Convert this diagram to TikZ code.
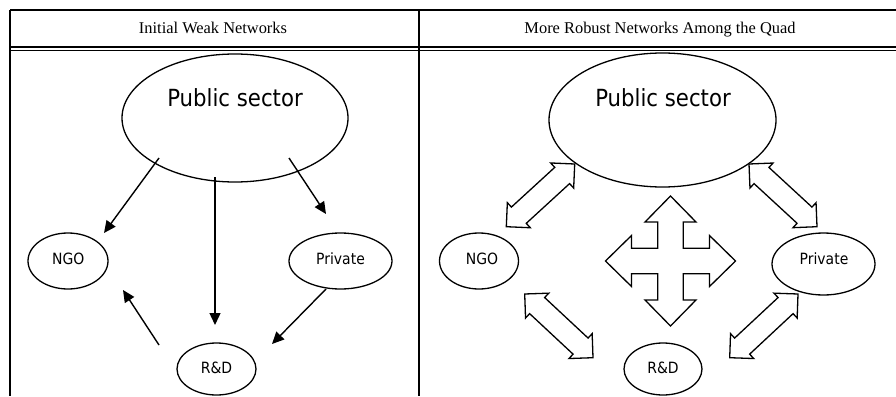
\documentclass[tikz,border=0pt]{standalone}
\usepackage{fontspec}
\setmainfont{Liberation Serif}
\newfontfamily\tah[FakeStretch=0.9]{DejaVu Sans}
\usetikzlibrary{calc,arrows.meta,shapes.geometric}

\newcommand\bhl{17pt}
\newcommand\bhw{17pt}
\newcommand\bsw{11pt}
\newcommand\dblk[2]{%
  \draw[blk] (#1)
    -- ($(#1)!\bhl!(#2)!\bhw!90:(#2)$)
    -- ($(#1)!\bhl!(#2)!\bsw!90:(#2)$)
    -- ($(#2)!\bhl!(#1)!\bsw!-90:(#1)$)
    -- ($(#2)!\bhl!(#1)!\bhw!-90:(#1)$)
    -- (#2)
    -- ($(#2)!\bhl!(#1)!\bhw!90:(#1)$)
    -- ($(#2)!\bhl!(#1)!\bsw!90:(#1)$)
    -- ($(#1)!\bhl!(#2)!\bsw!-90:(#2)$)
    -- ($(#1)!\bhl!(#2)!\bhw!-90:(#2)$)
    -- cycle;}

\begin{document}
\begin{tikzpicture}[x=1pt,y=-1pt,
  rule/.style={line width=1.6pt},
  ell/.style={draw, ellipse, line width=1.3pt, inner sep=0pt},
  big/.style={anchor=base, inner sep=0pt, font=\tah\fontsize{23.6}{28}\selectfont},
  small/.style={anchor=base, inner sep=0pt, font=\tah\fontsize{15.5}{18}\selectfont},
  head/.style={anchor=base, inner sep=0pt, font=\fontsize{16.4}{20}\selectfont},
  arr/.style={line width=1.4pt, -{Triangle[length=12pt,width=11pt]}},
  blk/.style={draw, line width=1.3pt, line join=miter, fill=white}]

\useasboundingbox (0,0) rectangle (896,396);

% table
\draw[rule] (10,10) -- (896,10);
\draw[rule] (10,10) -- (10,396);
\draw[rule] (419,10) -- (419,396);
\draw[line width=1.4pt] (10,47) -- (896,47);
\draw[line width=1.4pt] (10,50.5) -- (896,50.5);

\node[head] (h1) at (213,34) {Initial Weak Networks};
\node[head] (h2) at (660,34) {More Robust Networks Among the Quad};

% left panel
\node[ell, minimum width=226pt, minimum height=128pt] (pubL) at (235,118) {};
\node[big] (pubLt) at (235,106) {Public sector};
\node[ell, minimum width=80pt, minimum height=56pt] (ngoL) at (68,261) {};
\node[small] (ngoLt) at (68.3,264) {NGO};
\node[ell, minimum width=103pt, minimum height=56pt] (priL) at (340.5,261) {};
\node[small] (priLt) at (340.5,264) {Private};
\node[ell, minimum width=79pt, minimum height=52pt] (rdL) at (216.5,369) {};
\node[small] (rdLt) at (216.5,373.3) {R\&D};

\coordinate (a1s) at (159,158);  \coordinate (a1e) at (104,233);
\coordinate (a2s) at (215,177);  \coordinate (a2e) at (215,325);
\coordinate (a3s) at (289,158);  \coordinate (a3e) at (326,214);
\coordinate (a4s) at (326,289);  \coordinate (a4e) at (272,344);
\coordinate (a5s) at (159,345);  \coordinate (a5e) at (123,290);
\draw[arr] (a1s) -- (a1e);
\draw[arr] (a2s) -- (a2e);
\draw[arr] (a3s) -- (a3e);
\draw[arr] (a4s) -- (a4e);
\draw[arr] (a5s) -- (a5e);

% right panel
\node[ell, minimum width=227pt, minimum height=134pt] (pubR) at (662.5,120) {};
\node[big] (pubRt) at (663,106) {Public sector};
\node[ell, minimum width=79pt, minimum height=56pt] (ngoR) at (479,261) {};
\node[small] (ngoRt) at (482,264) {NGO};
\node[ell, minimum width=103pt, minimum height=62pt] (priR) at (823.5,264) {};
\node[small] (priRt) at (824,264) {Private};
\node[ell, minimum width=78pt, minimum height=52pt] (rdR) at (663,369) {};
\node[small] (rdRt) at (663,373.3) {R\&D};

\coordinate (bA1) at (506.3,226.7); \coordinate (bA2) at (574.7,164);
\coordinate (bB1) at (749,164);     \coordinate (bB2) at (817,226.7);
\coordinate (bC1) at (524.7,294);   \coordinate (bC2) at (593,357.7);
\coordinate (bD1) at (798,294);     \coordinate (bD2) at (729.7,357.7);
\dblk{bA1}{bA2}
\dblk{bB1}{bB2}
\dblk{bC1}{bC2}
\dblk{bD1}{bD2}

% four-way arrow
\begin{scope}[shift={(670.5,261)}]
\draw[blk] (0,-65) -- (25.5,-39) -- (12.8,-39) -- (12.8,-12.8) -- (39,-12.8) -- (39,-25.5)
  -- (65,0) -- (39,25.5) -- (39,12.8) -- (12.8,12.8) -- (12.8,39) -- (25.5,39)
  -- (0,65) -- (-25.5,39) -- (-12.8,39) -- (-12.8,12.8) -- (-39,12.8) -- (-39,25.5)
  -- (-65,0) -- (-39,-25.5) -- (-39,-12.8) -- (-12.8,-12.8) -- (-12.8,-39) -- (-25.5,-39)
  -- cycle;
\end{scope}
\end{tikzpicture}
\end{document}
